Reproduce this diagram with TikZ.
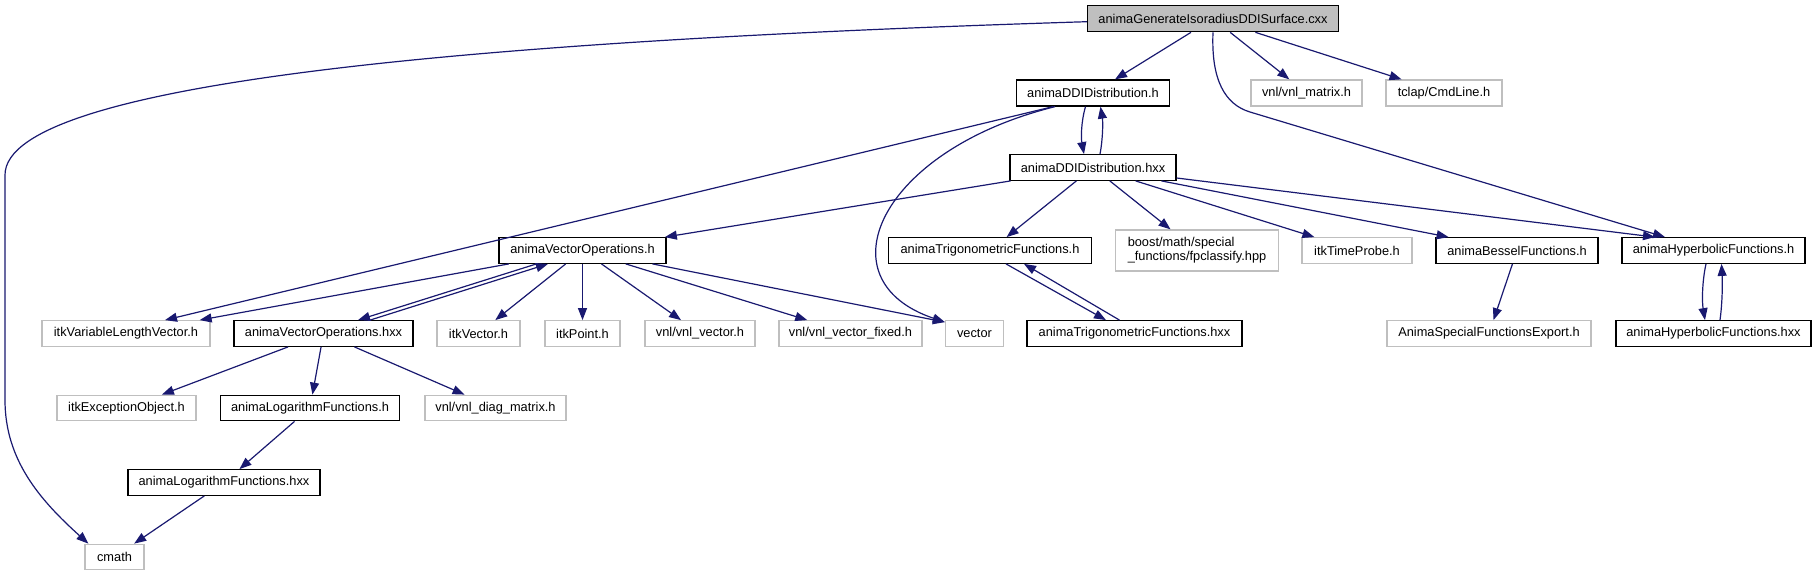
\documentclass[tikz,border=0pt]{standalone}
\usepackage{fontspec}
\setmainfont{Liberation Sans}
\usetikzlibrary{arrows.meta}
\definecolor{navy}{HTML}{191970}
\definecolor{lgray}{HTML}{BFBFBF}
\definecolor{rootfill}{HTML}{BFBFBF}
\newcommand{\doxfont}{\fontsize{12.8}{14}\selectfont}
\tikzset{
  doxbox/.style={draw=black, line width=1.3pt, fill=white, inner sep=0pt, font=\doxfont, minimum height=25.5pt},
  extbox/.style={draw=lgray, line width=1.3pt, fill=white, inner sep=0pt, font=\doxfont, minimum height=25.5pt},
  dep/.style={draw=navy, line width=1.2pt, -{Triangle[length=12pt,width=9pt]}}
}
\begin{document}
\begin{tikzpicture}[x=1pt,y=-1pt]
\path[use as bounding box] (0,0) rectangle (1816,576);
% row 0
\node[doxbox, fill=rootfill, minimum width=251pt, minimum height=26pt] (root) at (1213,18.7) {animaGenerateIsoradiusDDISurface.cxx};
% row 1
\node[doxbox, minimum width=153.5pt, minimum height=26pt] (ddih) at (1093,93) {animaDDIDistribution.h};
\node[extbox, minimum width=111pt, minimum height=26pt] (vnlm) at (1306.5,93) {vnl/vnl\_matrix.h};
\node[extbox, minimum width=116pt, minimum height=26pt] (tclap) at (1444,93) {tclap/CmdLine.h};
% row 2
\node[doxbox, minimum width=166pt] (ddihxx) at (1093,167.5) {animaDDIDistribution.hxx};
% row 3
\node[doxbox, minimum width=167pt] (vech) at (582.5,250.5) {animaVectorOperations.h};
\node[doxbox, minimum width=202.5pt] (trigh) at (990,250.5) {animaTrigonometricFunctions.h};
\node[extbox, minimum width=163pt, minimum height=41pt, align=left] (boost) at (1197,250.5) {boost/math/special\\\_functions/fpclassify.hpp};
\node[extbox, minimum width=110pt] (timep) at (1357,250.5) {itkTimeProbe.h};
\node[doxbox, minimum width=162pt] (bessel) at (1517,250.5) {animaBesselFunctions.h};
\node[doxbox, minimum width=183pt] (hyph) at (1713.5,250.5) {animaHyperbolicFunctions.h};
% row 4
\node[extbox, minimum width=168pt] (itkvlv) at (126,333.5) {itkVariableLengthVector.h};
\node[doxbox, minimum width=179pt] (vechxx) at (323.5,333.5) {animaVectorOperations.hxx};
\node[extbox, minimum width=83pt] (itkvec) at (478.5,333.5) {itkVector.h};
\node[extbox, minimum width=75pt] (itkpoint) at (582.5,333.5) {itkPoint.h};
\node[extbox, minimum width=110pt] (vnlvec) at (700,333.5) {vnl/vnl\_vector.h};
\node[extbox, minimum width=143pt] (vnlvecf) at (850.5,333.5) {vnl/vnl\_vector\_fixed.h};
\node[extbox, minimum width=58pt] (vector) at (974.5,333.5) {vector};
\node[doxbox, minimum width=215pt] (trighxx) at (1134.5,333.5) {animaTrigonometricFunctions.hxx};
\node[extbox, minimum width=204pt] (special) at (1489,333.5) {AnimaSpecialFunctionsExport.h};
\node[doxbox, minimum width=195pt] (hyphxx) at (1713.5,333.5) {animaHyperbolicFunctions.hxx};
% row 5
\node[extbox, minimum width=139pt] (itkexc) at (126.5,408) {itkExceptionObject.h};
\node[doxbox, minimum width=179.5pt] (logh) at (310,408) {animaLogarithmFunctions.h};
\node[extbox, minimum width=141pt] (diag) at (495.5,408) {vnl/vnl\_diag\_matrix.h};
% row 6
\node[doxbox, minimum width=192pt] (loghxx) at (224,482.5) {animaLogarithmFunctions.hxx};
% row 7
\node[extbox, minimum width=59pt] (cmath) at (114.5,557) {cmath};

% edges from root
\draw[dep] (root) -- (ddih);
\draw[dep] (root) -- (vnlm);
\draw[dep] (root) -- (tclap);
\coordinate (cm1) at (5,175);
\coordinate (cm2) at (5,400);
\draw[dep] ([yshift=-3pt]root.west) .. controls (500,40) and (5,80) .. (cm1) -- (cm2) .. controls (5,460) and (40,500) .. ([xshift=4pt]cmath.north west);
\coordinate (hy1) at (1250,112);
\draw[dep] (root.south) .. controls (1211,80) and (1225,104.5) .. (hy1) -- ([xshift=-48.5pt]hyph.north);

% DDI.h
\draw[dep] ([xshift=-7.5pt]ddih.south) .. controls (1081,122) and (1081,138) .. ([xshift=-9pt]ddihxx.north);
\draw[dep] ([xshift=7pt]ddihxx.north) .. controls (1103,138) and (1103,122) .. ([xshift=7.5pt]ddih.south);
\draw[dep] ([xshift=-40pt]ddih.south) -- ([xshift=39pt]itkvlv.north);
\draw[dep] ([xshift=-38pt]ddih.south) .. controls (880,150) and (820,280) .. ([yshift=-2pt]vector.north west);

% DDI.hxx
\draw[dep] (ddihxx) -- (vech);
\draw[dep] (ddihxx) -- (trigh);
\draw[dep] (ddihxx) -- (boost);
\draw[dep] (ddihxx) -- (timep);
\draw[dep] (ddihxx) -- (bessel);
\draw[dep] ([yshift=-10.5pt]ddihxx.east) -- ([xshift=-58.5pt]hyph.north);

% VectorOperations.h
\draw[dep] (vech) -- (itkvlv);
\draw[dep] ([xshift=-46pt]vech.south) -- ([xshift=34.5pt]vechxx.north);
\draw[dep] ([xshift=46.5pt]vechxx.north) -- ([xshift=-34.5pt]vech.south);
\draw[dep] (vech) -- (itkvec);
\draw[dep] (vech) -- (itkpoint);
\draw[dep] (vech) -- (vnlvec);
\draw[dep] (vech) -- (vnlvecf);
\draw[dep] ([xshift=70pt]vech.south) -- ([yshift=-2pt]vector.north west);

% VectorOperations.hxx
\draw[dep] (vechxx) -- (itkexc);
\draw[dep] (vechxx) -- (logh);
\draw[dep] (vechxx) -- (diag);

% Logarithm
\draw[dep] (logh) -- (loghxx);
\draw[dep] (loghxx) -- (cmath);

% Trigonometric
\draw[dep] ([xshift=16pt]trigh.south) -- ([xshift=-28.5pt]trighxx.north);
\draw[dep] ([xshift=-15pt]trighxx.north) -- ([xshift=34pt]trigh.south);

% Bessel
\draw[dep] (bessel) -- (special);

% Hyperbolic
\draw[dep] ([xshift=-7.5pt]hyph.south) .. controls (1702,282) and (1702,302) .. ([xshift=-8.5pt]hyphxx.north);
\draw[dep] ([xshift=6.5pt]hyphxx.north) .. controls (1722.5,302) and (1722.5,282) .. ([xshift=8pt]hyph.south);
\end{tikzpicture}
\end{document}
